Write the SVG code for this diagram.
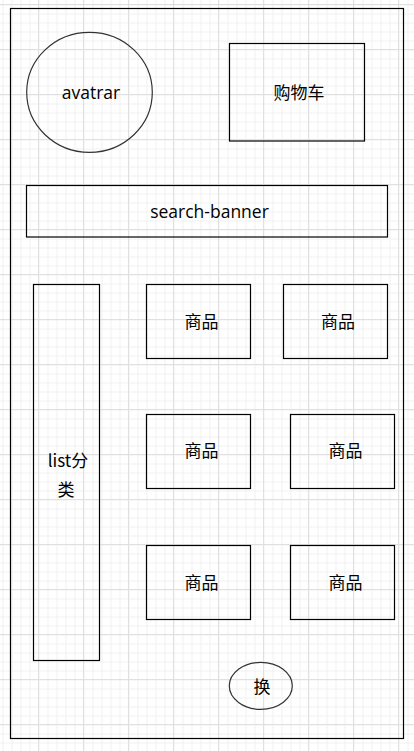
<svg xmlns="http://www.w3.org/2000/svg" width="414" height="751" viewBox="0 0 414 751">
<defs>
<pattern id="minor" x="2.5" y="4.5" width="9" height="9" patternUnits="userSpaceOnUse">
<path d="M0 0.5H9M0.5 0V9" fill="none" stroke="#f0f0f0" stroke-width="1"/>
</pattern>
<pattern id="major" x="38" y="4" width="45" height="45" patternUnits="userSpaceOnUse">
<path d="M0 0.5H45M0.5 0V45" fill="none" stroke="#e0e0e0" stroke-width="1"/>
</pattern>
</defs>
<style>
.box{fill:none;stroke:#000;stroke-width:1.2}
.oval{fill:none;stroke:#333;stroke-width:1.2}
.t{font-family:"Open Sans","Noto Sans CJK SC",sans-serif;font-size:17.5px;fill:#000;text-anchor:middle;dominant-baseline:central}
.c{font-family:"Noto Sans CJK SC","Open Sans",sans-serif;font-size:17px;fill:#000;text-anchor:middle;dominant-baseline:central}
</style>
<rect width="414" height="751" fill="#fff"/>
<rect width="414" height="751" fill="url(#minor)"/>
<rect width="414" height="751" fill="url(#major)"/>
<g id="frame"><rect class="box" x="10.5" y="8.5" width="393" height="730"/></g>
<g id="avatar"><ellipse class="oval" cx="89.5" cy="92.3" rx="62.8" ry="60"/><text class="t" x="91" y="92">avatrar</text></g>
<g id="cart"><rect class="box" x="229.5" y="43.5" width="135" height="97.5"/><text class="c" x="299" y="91">购物车</text></g>
<g id="search"><rect class="box" x="26.5" y="185.5" width="361" height="51.5"/><text class="t" x="209.5" y="211">search-banner</text></g>
<g id="list"><rect class="box" x="33.5" y="284.5" width="66" height="376"/><text class="c" x="68" y="459">list分</text><text class="c" x="66" y="488">类</text></g>
<g id="goods1"><rect class="box" x="146.5" y="284.5" width="104" height="74"/><text class="c" x="201.5" y="320">商品</text></g>
<g id="goods2"><rect class="box" x="283.5" y="284.5" width="104" height="74"/><text class="c" x="338" y="320">商品</text></g>
<g id="goods3"><rect class="box" x="146.5" y="414.5" width="104" height="74"/><text class="c" x="201.5" y="449">商品</text></g>
<g id="goods4"><rect class="box" x="290.5" y="414.5" width="104" height="74"/><text class="c" x="345.5" y="449">商品</text></g>
<g id="goods5"><rect class="box" x="146.5" y="545.5" width="104" height="74"/><text class="c" x="201.5" y="581">商品</text></g>
<g id="goods6"><rect class="box" x="290.5" y="545.5" width="104" height="74"/><text class="c" x="345.5" y="581">商品</text></g>
<g id="switch"><ellipse class="oval" cx="260.8" cy="685.8" rx="31.5" ry="23.5"/><text class="c" x="262" y="685">换</text></g>
<g id="connectors"/>
</svg>
